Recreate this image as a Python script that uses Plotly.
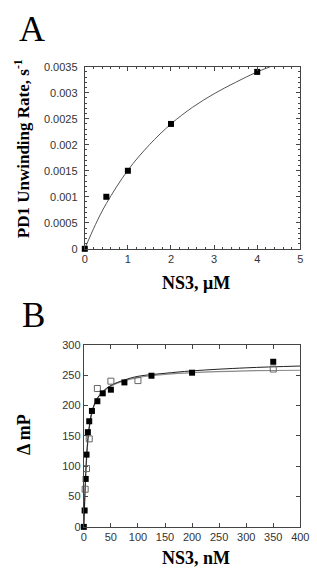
import plotly.graph_objects as go

# ---------------- data ----------------
# Panel A
a_x = [0, 0.5, 1, 2, 4]
a_y = [0, 0.0010, 0.0015, 0.0024, 0.0034]
a_fit_x = [0, 0.25, 0.5, 1, 1.5, 2, 2.5, 3, 3.5, 4, 4.5]
a_fit_y = [0, 0.00047, 0.00087, 0.00151, 0.00200, 0.00240, 0.00272, 0.00298, 0.00320, 0.00340, 0.00356]
a_xticks = [0, 1, 2, 3, 4, 5]
a_yticks = [0, 0.0005, 0.001, 0.0015, 0.002, 0.0025, 0.003, 0.0035]
a_yticklabels = ["0", "0.0005", "0.001", "0.0015", "0.002", "0.0025", "0.003", "0.0035"]

# Panel B
b_filled_x = [0, 1.5, 3.5, 5, 7.5, 10, 15, 25, 35, 50, 75, 125, 200, 350]
b_filled_y = [0, 27, 79, 119, 156, 174, 191, 207, 220, 226, 238, 249, 254, 272]
b_open_x = [2.5, 5, 10, 25, 50, 100, 350]
b_open_y = [62, 96, 145, 228, 240, 241, 260]
b_fit_x = [0, 1, 2, 3.5, 5, 7.5, 10, 15, 20, 25, 35, 50, 75, 100, 150, 200, 300, 400]
b_fit_black = [0, 28, 55, 88, 115, 145, 165, 190, 203, 212, 223, 233, 242, 248, 253, 257, 262, 265]
b_fit_gray = [0, 26, 50, 83, 110, 141, 162, 188, 202, 211, 222, 232, 241, 246, 251, 254, 257, 258]
b_xticks = [0, 50, 100, 150, 200, 250, 300, 350, 400]
b_yticks = [0, 50, 100, 150, 200, 250, 300]

# ---------------- layout helpers ----------------
W, H = 317, 574
def fx(p):
    return p / W
def fy(p):
    return 1 - p / H

AXC = "#444444"
TICKFONT = dict(family="Liberation Sans, Arial, sans-serif", size=11, color="#333333")
TITLEFONT = "Liberation Serif, Times New Roman, serif"

fig = go.Figure()

# Panel A
fig.add_trace(go.Scatter(x=a_fit_x, y=a_fit_y, mode="lines", line=dict(color="#555555", width=1, shape="spline"),
                         xaxis="x", yaxis="y", showlegend=False, hoverinfo="skip"))
fig.add_trace(go.Scatter(x=a_x, y=a_y, mode="markers", marker=dict(symbol="square", size=6, color="black"),
                         xaxis="x", yaxis="y", showlegend=False, cliponaxis=False))

# Panel B
fig.add_trace(go.Scatter(x=b_fit_x, y=b_fit_gray, mode="lines", line=dict(color="#888888", width=1.2, shape="spline"),
                         xaxis="x2", yaxis="y2", showlegend=False, hoverinfo="skip"))
fig.add_trace(go.Scatter(x=b_fit_x, y=b_fit_black, mode="lines", line=dict(color="#222222", width=1, shape="spline"),
                         xaxis="x2", yaxis="y2", showlegend=False, hoverinfo="skip"))
fig.add_trace(go.Scatter(x=b_open_x, y=b_open_y, mode="markers",
                         marker=dict(symbol="square-open", size=6, color="#666666", line=dict(width=1)),
                         xaxis="x2", yaxis="y2", showlegend=False, cliponaxis=False))
fig.add_trace(go.Scatter(x=b_filled_x, y=b_filled_y, mode="markers", marker=dict(symbol="square", size=6, color="black"),
                         xaxis="x2", yaxis="y2", showlegend=False, cliponaxis=False))

common = dict(showline=True, linecolor=AXC, linewidth=1, mirror="ticks", ticks="inside", ticklen=4,
              tickcolor=AXC, showgrid=False, zeroline=False, tickfont=TICKFONT)

fig.update_layout(
    width=W, height=H,
    margin=dict(l=0, r=0, t=0, b=0),
    paper_bgcolor="white", plot_bgcolor="white",
    xaxis=dict(domain=[fx(85), fx(309)], range=[0, 5], anchor="y", tickvals=a_xticks,
               minor=dict(dtick=0.2, ticks="inside", ticklen=2, tickcolor=AXC), **common),
    yaxis=dict(domain=[fy(248), fy(62)], range=[0, 0.0035], anchor="x", tickvals=a_yticks,
               ticktext=a_yticklabels, ticklabelstandoff=4,
               minor=dict(dtick=0.0001, ticks="inside", ticklen=2, tickcolor=AXC), **common),
    xaxis2=dict(domain=[fx(84), fx(309)], range=[0, 400], anchor="y2", tickvals=b_xticks, **common),
    yaxis2=dict(domain=[fy(532), fy(346)], range=[0, 300], anchor="x2", tickvals=b_yticks, **common),
)

def label(text, px_x, px_y, size, angle=0):
    return dict(text=text, x=fx(px_x), y=fy(px_y), xref="paper", yref="paper", showarrow=False,
                xanchor="center", yanchor="middle", textangle=angle,
                font=dict(family=TITLEFONT, size=size, color="black"))

ann = [
    label("A", 30, 24, 36),
    label("B", 32, 316, 35),
    label("<b>PD1 Unwinding Rate, s<sup>-1</sup></b>", 20, 146, 17, -90),
    label("<b>NS3, μM</b>", 201, 283, 18),
    label("<b>Δ mP</b>", 22, 438, 18, -90),
    label("<b>NS3, nM</b>", 201, 564, 18),
]
fig.update_layout(annotations=ann)

fig.write_html("out.html")
